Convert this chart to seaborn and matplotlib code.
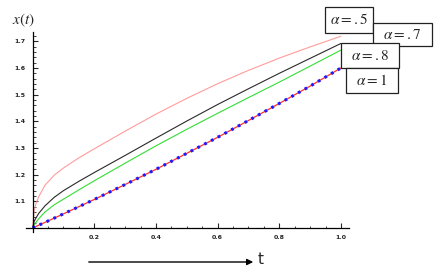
import matplotlib
matplotlib.use("Agg")
import matplotlib.pyplot as plt
import seaborn as sns
from matplotlib.ticker import MultipleLocator, FormatStrFormatter
from matplotlib.patches import Rectangle, FancyArrowPatch

# values
t = [0.0, 0.005, 0.01, 0.02, 0.04, 0.07, 0.1, 0.15, 0.2, 0.25, 0.3,
     0.4, 0.5, 0.6, 0.7, 0.8, 0.9, 1.0]
x_a05 = [1.0, 1.065, 1.088, 1.118, 1.16, 1.198, 1.225, 1.263, 1.297, 1.33, 1.363,
         1.427, 1.486, 1.541, 1.591, 1.637, 1.679, 1.719]
x_a07 = [1.0, 1.025, 1.036, 1.055, 1.083, 1.115, 1.14, 1.175, 1.208, 1.24, 1.272,
         1.337, 1.401, 1.463, 1.522, 1.58, 1.636, 1.692]
x_a08 = [1.0, 1.012, 1.02, 1.035, 1.06, 1.087, 1.108, 1.143, 1.177, 1.21, 1.243,
         1.308, 1.37, 1.43, 1.489, 1.547, 1.607, 1.667]
x_a1 = [1.0, 1.0027, 1.0053, 1.0106, 1.021, 1.037, 1.053, 1.08, 1.107, 1.135, 1.163,
        1.22, 1.28, 1.34, 1.403, 1.467, 1.532, 1.6]

x_ticks = [0.2, 0.4, 0.6, 0.8, 1.0]
y_ticks = [1.1, 1.2, 1.3, 1.4, 1.5, 1.6, 1.7]
labels = [r"$\alpha=.5$", r"$\alpha=.7$", r"$\alpha=.8$", r"$\alpha=1$"]

sns.set_style("white")
plt.rcParams["mathtext.fontset"] = "stix"

fig = plt.figure(figsize=(4.41, 2.74), dpi=100)
ax = fig.add_axes([0.060, 0.1533, 0.7306, 0.730])

sns.lineplot(x=t, y=x_a05, color="#ff9c9c", lw=0.8, ax=ax)
sns.lineplot(x=t, y=x_a07, color="#2a2a2a", lw=0.8, ax=ax)
sns.lineplot(x=t, y=x_a08, color="#33dd33", lw=0.8, ax=ax)
sns.lineplot(x=t, y=x_a1, color="#ff3030", lw=0.9, ax=ax)
sns.lineplot(x=t, y=x_a1, color="#1a1aff", lw=2.2, ax=ax, linestyle=(0, (0.9, 1.6)))

ax.set_xlim(-0.02, 1.025)
ax.set_ylim(0.985, 1.735)
for s in ["top", "right"]:
    ax.spines[s].set_visible(False)
ax.spines["left"].set_position(("data", 0))
ax.spines["bottom"].set_position(("data", 1))
for s in ["left", "bottom"]:
    ax.spines[s].set_linewidth(0.9)
    ax.spines[s].set_color("black")

ax.set_xticks(x_ticks)
ax.set_yticks(y_ticks)
ax.xaxis.set_minor_locator(MultipleLocator(0.05))
ax.yaxis.set_minor_locator(MultipleLocator(0.02))
ax.xaxis.set_major_formatter(FormatStrFormatter("%.1f"))
ax.yaxis.set_major_formatter(FormatStrFormatter("%.1f"))
ax.tick_params(which="major", direction="in", length=3.5, width=0.8, labelsize=4.5, pad=5)
ax.tick_params(which="minor", direction="in", length=1.8, width=0.6)
ax.tick_params(axis="y", which="both", left=True)
ax.tick_params(axis="x", which="both", bottom=True)
for lab in ax.get_xticklabels() + ax.get_yticklabels():
    lab.set_fontweight("bold")

# y label at the top
fig.text(23 / 441, 1 - 20 / 274, r"$x(t)$", fontsize=11, ha="center", va="center")

# arrow with t under the axis
fig.add_artist(FancyArrowPatch(
    (86 / 441, 1 - 262 / 274), (256 / 441, 1 - 262 / 274),
    transform=fig.transFigure, arrowstyle="-|>", mutation_scale=9, lw=1.0, color="black"))
fig.text(261 / 441, 1 - 260 / 274, "t", fontsize=11, ha="center", va="center")

# label boxes (pixel boxes: x0, y0, x1, y1)
boxes = [(325, 7, 373, 33), (373, 23, 432, 46), (341, 43, 399, 68), (346, 68, 398, 93)]
for (x0, y0, x1, y1), lab in zip(boxes, labels):
    r = Rectangle((x0 / 441, 1 - y1 / 274), (x1 - x0) / 441, (y1 - y0) / 274,
                  transform=fig.transFigure, facecolor="white", edgecolor="#222222", lw=0.9)
    fig.add_artist(r)
    fig.text((x0 + x1) / 2 / 441, 1 - (y0 + y1) / 2 / 274, lab, fontsize=11,
             ha="center", va="center")

fig.savefig("out.png", dpi=100)
